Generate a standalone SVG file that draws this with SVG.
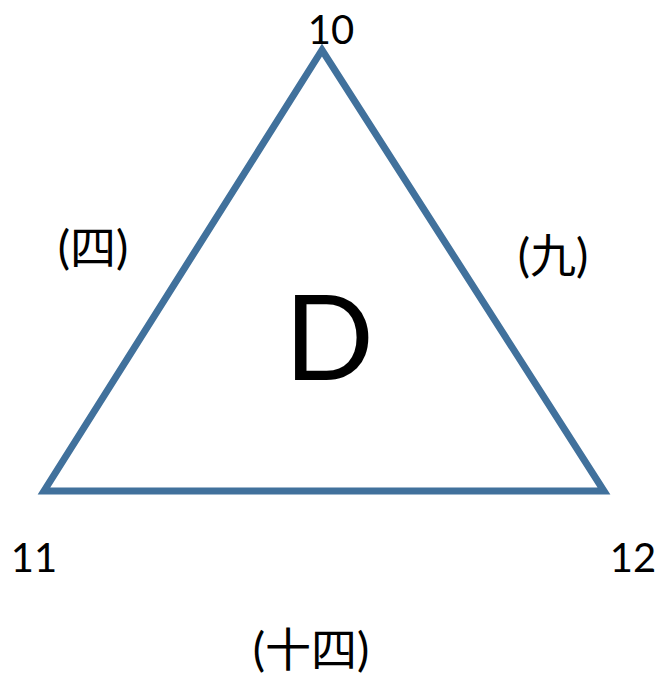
<svg xmlns="http://www.w3.org/2000/svg" width="663" height="679" viewBox="0 0 663 679">
<style>
.lbl{font-family:Lato,"Open Sans","Noto Sans CJK SC",sans-serif;font-size:40px;fill:#000}
.cjk{font-family:Lato,"Noto Sans CJK SC",sans-serif;font-size:46px;fill:#000}
.tri{fill:none;stroke:#41719c;stroke-width:7;stroke-linejoin:miter}
</style>
<rect width="663" height="679" fill="#fff"/>
<g id="connectors">
<polygon class="tri" points="322,50 44,491 604,491"/>
</g>
<g id="n10"><text class="lbl" x="331" y="44" text-anchor="middle">10</text></g>
<g id="n11"><text class="lbl" x="34" y="572" text-anchor="middle">11</text></g>
<g id="n12"><text class="lbl" x="633" y="572" text-anchor="middle">12</text></g>
<g id="e4"><text class="cjk" x="93" y="264" text-anchor="middle">(四)</text></g>
<g id="e9"><text class="cjk" x="553" y="272" text-anchor="middle">(九)</text></g>
<g id="e14"><text class="cjk" x="311" y="666" text-anchor="middle">(十四)</text></g>
<g id="D"><text x="329" y="380" text-anchor="middle" style="font-family:Lato,'Open Sans',sans-serif;font-size:118px;fill:#000">D</text></g>
</svg>
